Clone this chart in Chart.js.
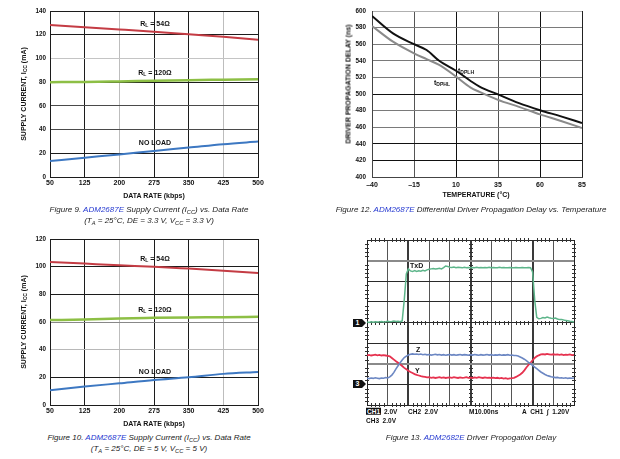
<!DOCTYPE html>
<html><head><meta charset="utf-8">
<script src="https://cdn.jsdelivr.net/npm/chart.js@4.4.1/dist/chart.umd.min.js"></script>
<style>
html,body{margin:0;padding:0;background:#fff;}
body{width:620px;height:459px;position:relative;overflow:hidden;font-family:"Liberation Sans",Arial,sans-serif;}
canvas{position:absolute;}
.t{position:absolute;transform:translate(-50%,-50%);white-space:nowrap;font-weight:bold;font-size:7px;color:#111;line-height:1;}
.r{transform:translate(-50%,-50%) rotate(-90deg);}
.l{position:absolute;white-space:nowrap;font-weight:bold;font-size:7px;color:#111;line-height:1;transform:translateY(-50%);}
.s{position:absolute;white-space:nowrap;font-weight:bold;font-size:6.5px;color:#111;line-height:1;transform:translateY(-50%);}
sub{font-size:72%;vertical-align:-0.3em;line-height:0;}
.cap{position:absolute;transform:translate(-50%,-50%);white-space:nowrap;font-style:italic;font-size:8px;color:#222;line-height:1;}
.cap b{font-weight:normal;color:#2438d0;}
.inv{background:#111;color:#fff;padding:0 1px;}
.mk{position:absolute;width:9px;height:8px;background:#111;color:#fff;font:bold 7px "Liberation Sans",Arial,sans-serif;line-height:8px;text-align:center;}
.mk:after{content:"";position:absolute;left:9px;top:0;border-left:4px solid #111;border-top:4px solid transparent;border-bottom:4px solid transparent;}
</style></head>
<body>
<canvas id="c9"></canvas>
<canvas id="c12"></canvas>
<canvas id="c10"></canvas>
<canvas id="c13"></canvas>

<!-- Figure 9 texts -->
<div class="t r" style="left:23px;top:94px">SUPPLY CURRENT, I<sub>CC</sub> (mA)</div>
<div class="t" style="left:154px;top:195px">DATA RATE (kbps)</div>
<div class="t" style="left:155px;top:23px">R<sub>L</sub> = 54Ω</div>
<div class="t" style="left:155px;top:72px">R<sub>L</sub> = 120Ω</div>
<div class="t" style="left:155px;top:142px">NO LOAD</div>
<div class="cap" style="left:149px;top:210px">Figure 9. <b>ADM2687E</b> Supply Current (I<sub>CC</sub>) vs. Data Rate</div>
<div class="cap" style="left:149px;top:220.5px">(T<sub>A</sub> = 25°C, DE = 3.3 V, V<sub>CC</sub> = 3.3 V)</div>

<!-- Figure 12 texts -->
<div class="t r" style="left:348px;top:84px">DRIVER PROPAGATION DELAY (ns)</div>
<div class="t" style="left:476px;top:194px">TEMPERATURE (°C)</div>
<div class="l" style="left:458px;top:70px">t<sub>DPLH</sub></div>
<div class="l" style="left:434px;top:82px">t<sub>DPHL</sub></div>
<div class="cap" style="left:471px;top:210px">Figure 12. <b>ADM2687E</b> Differential Driver Propagation Delay vs. Temperature</div>

<!-- Figure 10 texts -->
<div class="t r" style="left:23px;top:321.5px">SUPPLY CURRENT, I<sub>CC</sub> (mA)</div>
<div class="t" style="left:154px;top:423px">DATA RATE (kbps)</div>
<div class="t" style="left:155px;top:257.5px">R<sub>L</sub> = 54Ω</div>
<div class="t" style="left:155px;top:309px">R<sub>L</sub> = 120Ω</div>
<div class="t" style="left:155px;top:370.5px">NO LOAD</div>
<div class="cap" style="left:149px;top:438px">Figure 10. <b>ADM2687E</b> Supply Current (I<sub>CC</sub>) vs. Data Rate</div>
<div class="cap" style="left:149px;top:448.5px">(T<sub>A</sub> = 25°C, DE = 5 V, V<sub>CC</sub> = 5 V)</div>

<!-- Figure 13 texts -->
<div class="l" style="left:410px;top:265px">TxD</div>
<div class="l" style="left:416px;top:349px">Z</div>
<div class="l" style="left:415px;top:370px">Y</div>
<div class="mk" id="mk1">1</div>
<div class="mk" id="mk3">3</div>
<div class="s" style="left:366px;top:412px"><span class="inv">CH1</span></div>
<div class="s" style="left:384px;top:412px">2.0V</div>
<div class="s" style="left:408px;top:412px">CH2&nbsp;&nbsp;2.0V</div>
<div class="s" style="left:469px;top:412px">M10.00ns</div>
<div class="s" style="left:522px;top:412px">A&nbsp;&nbsp;CH1&nbsp;&nbsp;∫&nbsp;&nbsp;1.20V</div>
<div class="s" style="left:366px;top:421px">CH3&nbsp;&nbsp;2.0V</div>
<div class="cap" style="left:471px;top:438px">Figure 13. <b>ADM2682E</b> Driver Propogation Delay</div>

<script>
// ---------- data ----------
const rateKbps = [50, 125, 200, 275, 350, 425, 500];
const f9RL54   = [128.3, 126.3, 124.5, 122.6, 120.4, 118.3, 115.7];
const f9RL120  = [80.0, 80.1, 80.6, 81.2, 81.7, 82.1, 82.5];
const f9NoLoad = [13.5, 16.3, 19.0, 22.0, 24.8, 27.7, 29.9];

const f10RL54   = [103.4, 102.2, 101.0, 100.0, 98.6, 97.1, 95.4];
const f10RL120  = [61.4, 61.8, 62.6, 63.0, 63.3, 63.5, 63.8];
const f10NoLoad = [10.6, 13.3, 15.7, 18.1, 20.0, 22.5, 23.9];

const tempC = [-40, -27.5, -15, -7.5, 0, 10, 18.5, 24, 35, 47.5, 60, 72.5, 85];
const tDPLH = [594, 573, 560, 553, 540, 528, 516, 509, 499.5, 489, 480.5, 473, 465];
const tDPHL = [582, 563, 549, 542, 535, 521, 508, 502.5, 493, 484.5, 475.5, 467.5, 459];

// oscilloscope: time in divisions, amplitude in divisions from bottom
const scopeTime = [0,0.1,0.2,0.3,0.4,0.5,0.6,0.7,0.8,0.9,
  1,1.1,1.2,1.3,1.4,1.5,1.6,1.7,1.8,1.9,
  2,2.1,2.2,2.3,2.4,2.5,2.6,2.7,2.8,2.9,
  3,3.1,3.2,3.3,3.4,3.5,3.6,3.7,3.8,3.9,
  4,4.1,4.2,4.3,4.4,4.5,4.6,4.7,4.8,4.9,
  5,5.1,5.2,5.3,5.4,5.5,5.6,5.7,5.8,5.9,
  6,6.1,6.2,6.3,6.4,6.5,6.6,6.7,6.8,6.9,
  7,7.1,7.2,7.3,7.4,7.5,7.6,7.7,7.8,7.9,
  8,8.1,8.2,8.3,8.4,8.5,8.6,8.7,8.8,8.9,
  9,9.1,9.2,9.3,9.4,9.5,9.6,9.7,9.8,9.9,10];
const txdTrace = [4.02,4.00,4.03,4.01,4.04,4.02,4.03,4.05,4.03,4.04,
  4.06,4.04,4.05,4.07,4.05,4.06,4.04,4.08,5.10,6.35,
  6.60,6.50,6.47,6.52,6.48,6.51,6.49,6.53,6.50,6.55,
  6.58,6.60,6.62,6.59,6.61,6.63,6.60,6.66,6.74,6.72,
  6.68,6.67,6.69,6.66,6.68,6.67,6.65,6.68,6.66,6.67,
  6.65,6.67,6.66,6.68,6.66,6.67,6.65,6.67,6.66,6.68,
  6.66,6.67,6.65,6.66,6.68,6.66,6.67,6.65,6.66,6.67,
  6.65,6.66,6.67,6.65,6.66,6.67,6.66,6.65,6.67,6.66,
  6.45,5.10,4.25,4.18,4.20,4.24,4.22,4.26,4.23,4.21,
  4.20,4.22,4.17,4.14,4.15,4.12,4.10,4.08,4.06,4.05,4.02];
const yTrace = [2.41,2.43,2.40,2.42,2.44,2.41,2.43,2.40,2.42,2.40,
  2.38,2.36,2.28,2.20,2.12,2.05,1.97,1.89,1.80,1.73,
  1.66,1.60,1.55,1.50,1.46,1.43,1.40,1.38,1.36,1.34,
  1.35,1.32,1.34,1.31,1.33,1.35,1.32,1.34,1.31,1.33,
  1.34,1.32,1.35,1.33,1.31,1.34,1.32,1.33,1.35,1.32,
  1.33,1.31,1.34,1.32,1.35,1.33,1.31,1.34,1.32,1.33,
  1.31,1.33,1.30,1.32,1.29,1.31,1.28,1.30,1.27,1.29,
  1.30,1.32,1.36,1.42,1.48,1.56,1.68,1.82,1.94,2.05,
  2.17,2.28,2.36,2.41,2.45,2.47,2.45,2.48,2.46,2.44,
  2.46,2.44,2.45,2.43,2.45,2.42,2.44,2.43,2.45,2.42,2.43];
const zTrace = [1.30,1.28,1.31,1.29,1.32,1.30,1.28,1.31,1.30,1.33,
  1.31,1.36,1.45,1.58,1.75,1.90,2.05,2.18,2.30,2.37,
  2.42,2.46,2.48,2.46,2.47,2.45,2.47,2.44,2.46,2.43,
  2.45,2.42,2.44,2.46,2.43,2.45,2.42,2.44,2.41,2.43,
  2.45,2.42,2.44,2.41,2.43,2.45,2.42,2.44,2.43,2.41,
  2.44,2.42,2.45,2.43,2.41,2.44,2.42,2.43,2.45,2.42,
  2.44,2.41,2.43,2.42,2.44,2.41,2.43,2.42,2.44,2.41,
  2.42,2.40,2.40,2.38,2.33,2.28,2.22,2.15,2.07,2.00,
  1.92,1.84,1.76,1.68,1.60,1.54,1.48,1.43,1.40,1.37,
  1.35,1.33,1.34,1.31,1.32,1.30,1.32,1.29,1.31,1.30,1.31];
const ch1Level = 4, ch3Level = 1;

// ---------- helpers ----------
const PADL = 30, PADT = 11, PADR = 20, PADB = 16;
const FONT = 'Liberation Sans';
function place(id, L, T, R, B) {
  const c = document.getElementById(id);
  c.width = (R - L) + PADL + PADR;
  c.height = (B - T) + PADT + PADB;
  c.style.left = (L - PADL) + 'px';
  c.style.top = (T - PADT) + 'px';
  c.style.width = c.width + 'px';
  c.style.height = c.height + 'px';
  return c;
}
function pts(xs, ys) { return xs.map((x, i) => ({x: x, y: ys[i]})); }
function line(data, color, width) {
  return {data: data, borderColor: color, borderWidth: width, pointRadius: 0,
          fill: false, cubicInterpolationMode: 'monotone'};
}
function baseOpts(o) {
  return {
    responsive: false, animation: false, devicePixelRatio: 1,
    layout: {padding: {left: 0, top: PADT, right: PADR, bottom: 0}},
    plugins: {legend: {display: false}, tooltip: {enabled: false}},
    scales: {
      x: {type: 'linear', min: o.xmin, max: o.xmax,
          ticks: {stepSize: o.xstep, autoSkip: false, maxRotation: 0, display: o.showTicks,
                  padding: o.xpad, color: '#111', font: {family: FONT, size: 7, weight: 'bold'},
                  callback: v => v < 0 ? '\u2013' + Math.abs(v) : String(v)},
          grid: {drawTicks: false, color: c => o.xcol(c.tick.value), lineWidth: c => o.xw ? o.xw(c.tick.value) : 1},
          border: {display: true, color: o.border, width: 1},
          afterFit: s => { s.height = PADB; }},
      y: {type: 'linear', min: o.ymin, max: o.ymax,
          ticks: {stepSize: o.ystep, autoSkip: false, display: o.showTicks,
                  padding: o.ypad, color: '#111', font: {family: FONT, size: 6.3, weight: 'bold'}},
          grid: {drawTicks: false, color: c => o.ycol(c.tick.value), lineWidth: c => o.yw ? o.yw(c.tick.value) : 1},
          border: {display: true, color: o.border, width: 1},
          afterFit: s => { s.width = PADL; }}
    }
  };
}
const DARK = '#1c1c1c';
function supplyX(v) { return (v === 200 || v === 425) ? '#bdbdbd' : DARK; }

// ---------- Figure 9 ----------
new Chart(place('c9', 50, 11, 258, 177), {
  type: 'line',
  data: {datasets: [
    line(pts(rateKbps, f9RL54), '#c43c44', 2),
    line(pts(rateKbps, f9RL120), '#8dbf45', 2.5),
    line(pts(rateKbps, f9NoLoad), '#3d78c2', 2)
  ]},
  options: baseOpts({xmin: 50, xmax: 500, xstep: 75, ymin: 0, ymax: 140, ystep: 20,
    showTicks: true, xpad: 2, ypad: 4, border: DARK,
    xcol: supplyX,
    ycol: v => v === 100 ? '#c4c4c4' : ((v === 40 || v === 60) ? '#4a4a4a' : DARK)})
});

// ---------- Figure 10 ----------
new Chart(place('c10', 50, 239, 258, 405), {
  type: 'line',
  data: {datasets: [
    line(pts(rateKbps, f10RL54), '#c43c44', 2),
    line(pts(rateKbps, f10RL120), '#8dbf45', 2.5),
    line(pts(rateKbps, f10NoLoad), '#3d78c2', 2)
  ]},
  options: baseOpts({xmin: 50, xmax: 500, xstep: 75, ymin: 0, ymax: 120, ystep: 20,
    showTicks: true, xpad: 2, ypad: 4, border: DARK,
    xcol: supplyX,
    ycol: v => v === 40 ? '#b8b8b8' : (v === 60 ? '#888' : DARK)})
});

// ---------- Figure 12 ----------
new Chart(place('c12', 372, 11, 582, 177), {
  type: 'line',
  data: {datasets: [
    line(pts(tempC, tDPLH), '#111111', 2),
    line(pts(tempC, tDPHL), '#8a8a8a', 2)
  ]},
  options: baseOpts({xmin: -40, xmax: 85, xstep: 25, ymin: 400, ymax: 600, ystep: 20,
    showTicks: true, xpad: 4, ypad: 6, border: '#444',
    xcol: v => (v === 10 || v === 60) ? '#111' : (v === 85 ? '#222' : '#555'),
    ycol: v => (v === 400 || v === 420 || v === 440 || v === 500) ? '#111' : (v === 600 ? '#b0b0b0' : '#7a7a7a')})
});

// ---------- Figure 13 (scope) ----------
const minorTicks = {
  id: 'minorTicks',
  beforeDatasetsDraw(chart) {
    const {ctx, scales: {x, y}} = chart;
    ctx.save();
    ctx.strokeStyle = '#333';
    ctx.lineWidth = 1;
    ctx.beginPath();
    [0, 4, 8].forEach(gy => {
      const py = Math.round(y.getPixelForValue(gy));
      for (let k = 1; k < 50; k++) {
        if (k % 5 === 0) continue;
        const px = Math.round(x.getPixelForValue(k / 5)) + 0.5;
        ctx.moveTo(px, py - 2); ctx.lineTo(px, py + 2);
      }
    });
    [0, 5, 10].forEach(gx => {
      const px = Math.round(x.getPixelForValue(gx));
      for (let k = 1; k < 40; k++) {
        if (k % 5 === 0) continue;
        const py = Math.round(y.getPixelForValue(k / 5)) + 0.5;
        ctx.moveTo(px - 2, py); ctx.lineTo(px + 2, py);
      }
    });
    ctx.stroke();
    ctx.restore();
  }
};
const scopeCanvas = place('c13', 367, 240, 574, 405);
const scope = new Chart(scopeCanvas, {
  type: 'line',
  data: {datasets: [
    line(pts(scopeTime, txdTrace), '#5db58a', 1.5),
    line(pts(scopeTime, zTrace), '#6c87c3', 1.6),
    line(pts(scopeTime, yTrace), '#e6324f', 1.8)
  ]},
  options: baseOpts({xmin: 0, xmax: 10, xstep: 1, ymin: 0, ymax: 8, ystep: 1,
    showTicks: false, xpad: 0, ypad: 0, border: '#222',
    xcol: v => (v === 2 || v === 5 || v === 8) ? '#3a3a3a' : (v === 0 || v === 10 ? '#222' : '#555'),
    xw: v => (v === 2 || v === 5 || v === 8) ? 2 : 1,
    ycol: v => (v === 2 || v === 7) ? '#8a8a8a' : '#2a2a2a',
    yw: v => (v === 2 || v === 7) ? 2 : 1}),
  plugins: [minorTicks]
});
scope.data.datasets.forEach(d => { d.cubicInterpolationMode = 'default'; d.tension = 0; });
scope.update('none');
// channel ground markers placed through the scope's own y scale
(function () {
  const top = parseFloat(scopeCanvas.style.top), left = parseFloat(scopeCanvas.style.left);
  const ys = scope.scales.y, xs = scope.scales.x;
  const x0 = left + xs.left;
  const m1 = document.getElementById('mk1'), m3 = document.getElementById('mk3');
  m1.style.left = (x0 - 14) + 'px'; m1.style.top = (top + ys.getPixelForValue(ch1Level) - 4) + 'px';
  m3.style.left = (x0 - 14) + 'px'; m3.style.top = (top + ys.getPixelForValue(ch3Level) - 4) + 'px';
})();
</script>
</body></html>
